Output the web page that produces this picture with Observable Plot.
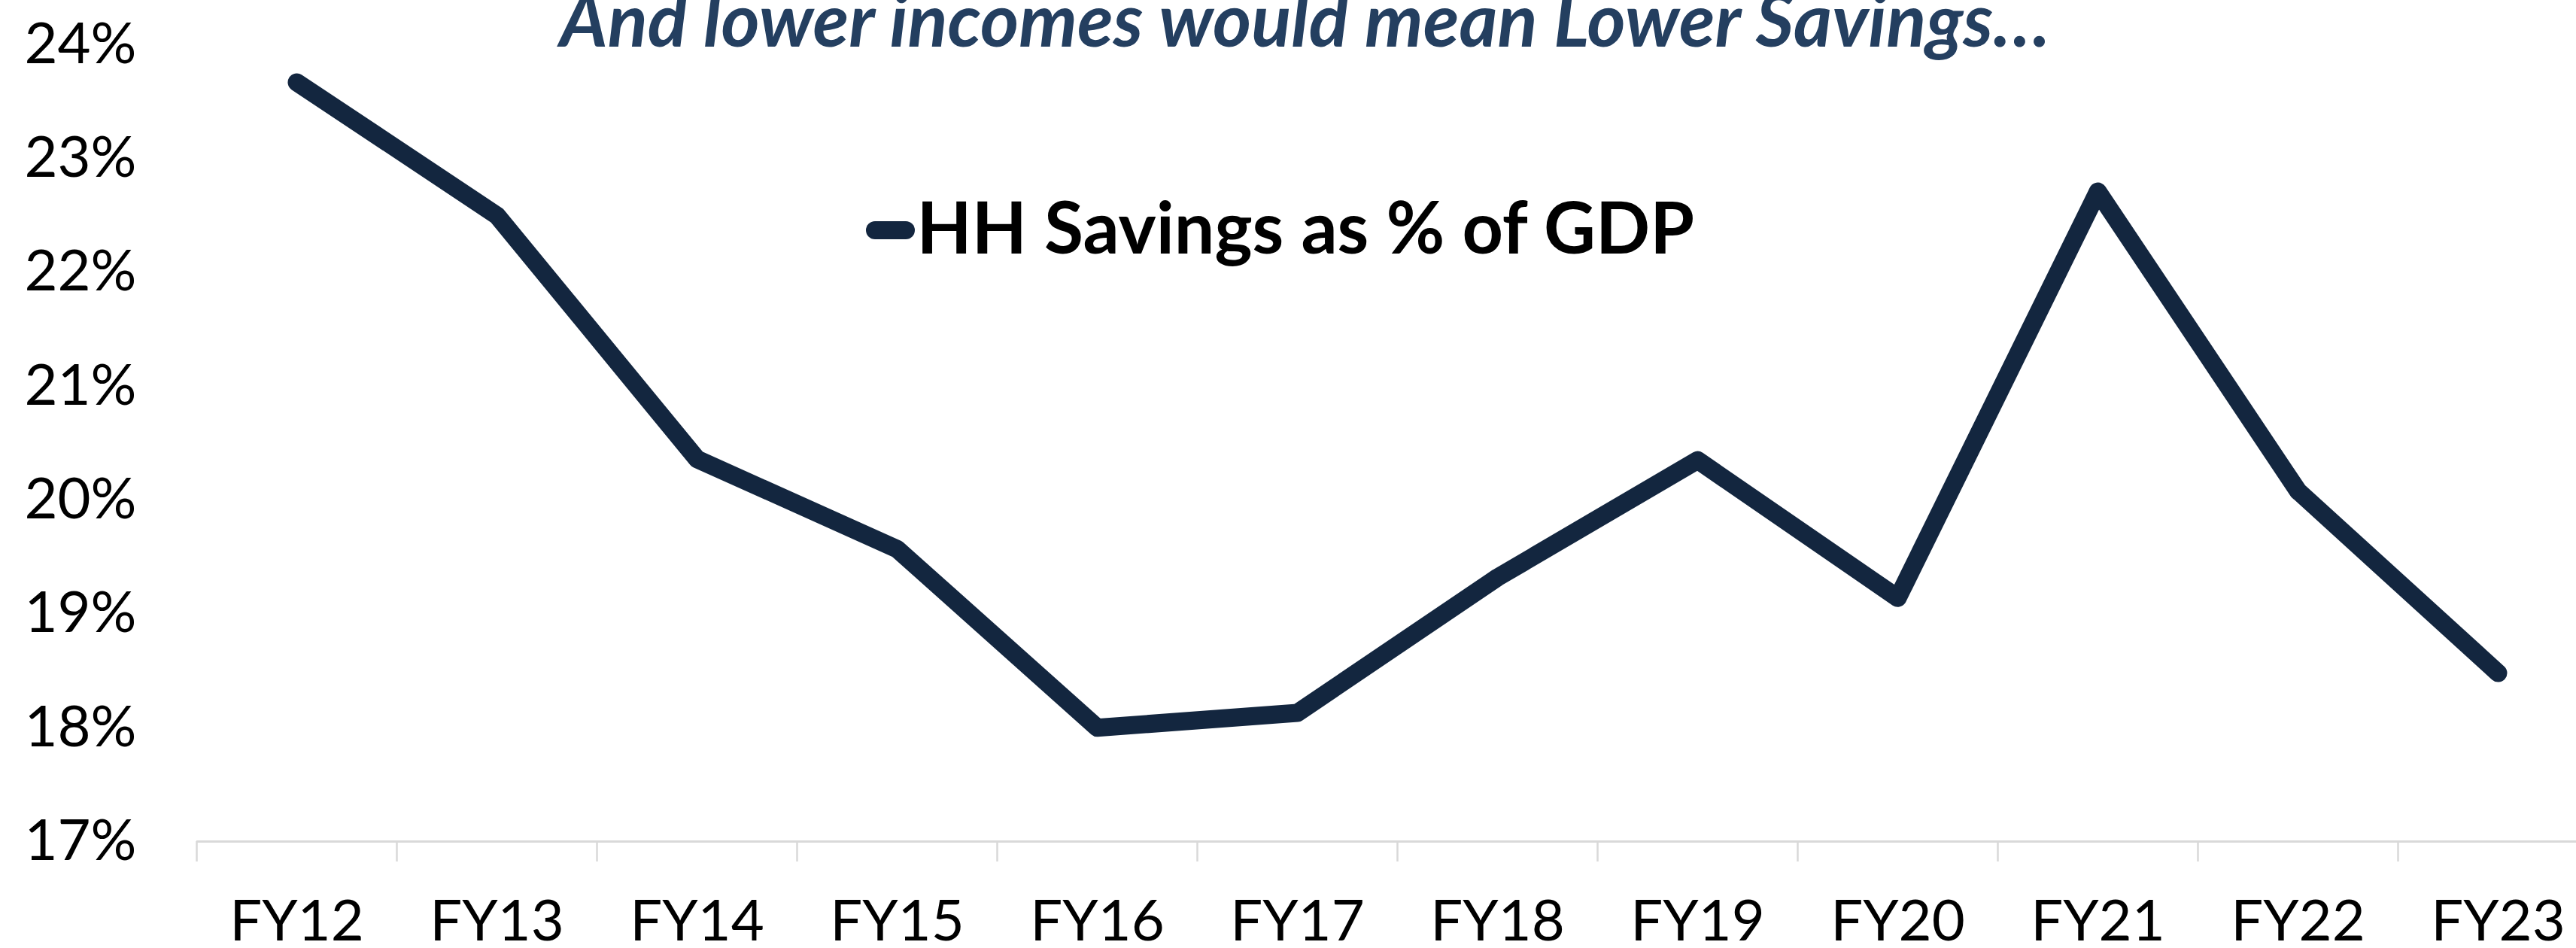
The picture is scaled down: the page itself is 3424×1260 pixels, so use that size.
<!DOCTYPE html>
<html>
<head>
<meta charset="utf-8">
<script src="https://cdn.jsdelivr.net/npm/d3@7"></script>
<script src="https://cdn.jsdelivr.net/npm/@observablehq/plot@0.6"></script>
<style>
  html, body { margin: 0; padding: 0; background: #fff; }
  #chart { position: relative; width: 3424px; height: 1260px; overflow: hidden; }
  #chart svg { max-width: none; }
</style>
</head>
<body>
<div id="chart"></div>
<script>
const categories = ["FY12","FY13","FY14","FY15","FY16","FY17","FY18","FY19","FY20","FY21","FY22","FY23"];
const savings = [23.67, 22.50, 20.36, 19.57, 18.00, 18.13, 19.32, 20.35, 19.14, 22.71, 20.08, 18.48];
const yTicks = [17, 18, 19, 20, 21, 22, 23, 24];
const titleText = "And lower incomes would mean Lower Savings…";
const legendText = "HH Savings as % of GDP";

const lineColor = "#13263f";
const data = categories.map((c, i) => ({fy: c, v: savings[i]}));

const W = 3424, H = 1260;
const mL = 261, mR = -29, mT = 59, mB = 142;
const step = (W - mR - mL) / categories.length;

const chart = Plot.plot({
  width: W,
  height: H,
  marginLeft: mL,
  marginRight: mR,
  marginTop: mT,
  marginBottom: mB,
  style: {fontFamily: "Lato", fontSize: "76px", color: "#000", background: "#fff"},
  x: {type: "point", domain: categories, padding: 0.5, label: null},
  y: {domain: d3.extent(yTicks), label: null},
  marks: [
    Plot.ruleY([d3.min(yTicks)], {stroke: "#d9d9d9", strokeWidth: 3}),
    Plot.axisX({tickSize: 27, dx: -step / 2, tickFormat: () => "", stroke: "#d9d9d9", strokeWidth: 2.5, label: null}),
    Plot.axisX({tickSize: 0, tickPadding: 78, fontSize: 76, fill: "#000", label: null}),
    Plot.axisY({ticks: yTicks, tickSize: 0, tickPadding: 80, tickFormat: d => d + "%", fontSize: 76, fill: "#000", label: null}),
    Plot.line(data, {x: "fy", y: "v", stroke: lineColor, strokeWidth: 24, strokeLinecap: "round", strokeLinejoin: "round"}),
    Plot.text([titleText], {frameAnchor: "top-left", dx: 1734 - mL, dy: 2, textAnchor: "middle", lineAnchor: "bottom",
      fontSize: 98, fontWeight: "bold", fontStyle: "italic", fill: "#243f60"}),
    Plot.text([legendText], {frameAnchor: "top-left", dx: 1218 - mL, dy: 336 - mT, textAnchor: "start", lineAnchor: "bottom",
      fontSize: 95, fontWeight: "bold", fill: "#000"})
  ]
});

d3.select(chart).append("line")
  .attr("x1", 1163).attr("x2", 1204)
  .attr("y1", 306).attr("y2", 306)
  .attr("stroke", lineColor).attr("stroke-width", 24).attr("stroke-linecap", "round");

document.getElementById("chart").appendChild(chart);
</script>
</body>
</html>
